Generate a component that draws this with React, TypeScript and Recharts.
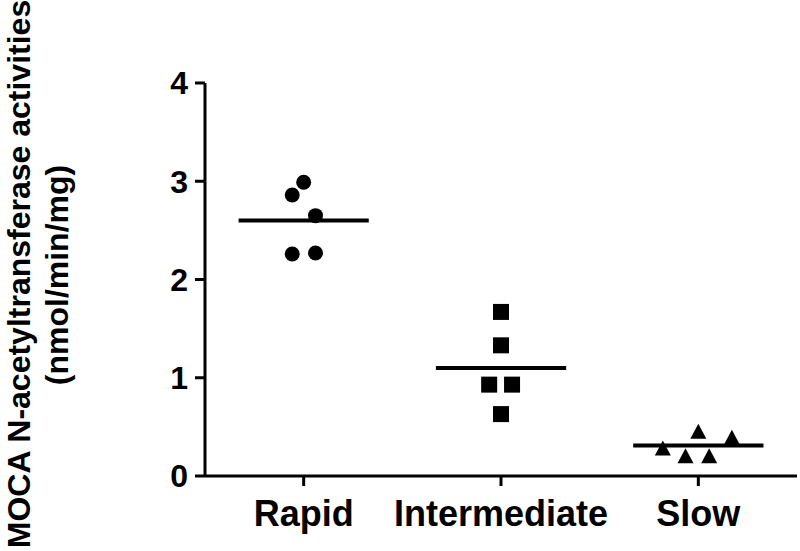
import React from 'react';
import { ScatterChart, Scatter, XAxis, YAxis, ReferenceLine, Label } from 'recharts';

const categories = ['Rapid', 'Intermediate', 'Slow'];
const rapidValues = [2.99, 2.86, 2.65, 2.26, 2.27];
const rapidJitter = [0, -0.058, 0.06, -0.058, 0.06];
const intermediateValues = [1.67, 1.33, 0.93, 0.93, 0.63];
const intermediateJitter = [0, 0, -0.06, 0.056, 0];
const slowValues = [0.28, 0.45, 0.39, 0.2, 0.2];
const slowJitter = [-0.18, 0, 0.17, -0.065, 0.055];
const groupMeans = [2.6, 1.1, 0.31];
const yTicks = [0, 1, 2, 3, 4];

const font = '"Liberation Sans", Arial, sans-serif';

const toPoints = (values: number[], jitter: number[], idx: number) =>
  values.map((v, i) => ({ x: idx + 0.5 + jitter[i], y: v }));

const rapidData = toPoints(rapidValues, rapidJitter, 0);
const intermediateData = toPoints(intermediateValues, intermediateJitter, 1);
const slowData = toPoints(slowValues, slowJitter, 2);

const Dot = (p: any) => <circle cx={p.cx} cy={p.cy} r={7.5} fill="#000" />;
const Box = (p: any) => <rect x={p.cx - 8} y={p.cy - 8} width={16} height={16} fill="#000" />;
const Tri = (p: any) => (
  <polygon points={`${p.cx},${p.cy - 8} ${p.cx - 8},${p.cy + 7} ${p.cx + 8},${p.cy + 7}`} fill="#000" />
);

const yLabel = () => (
  <g fontFamily={font} fontWeight="bold" fontSize={32} fill="#000">
    <text x={30} y={274} transform="rotate(-90 30 274)" textAnchor="middle">
      MOCA N-acetyltransferase activities
    </text>
    <text x={68} y={275} transform="rotate(-90 68 275)" textAnchor="middle">
      (nmol/min/mg)
    </text>
  </g>
);

const axisStroke = { stroke: '#000', strokeWidth: 3 };

const App: React.FC = () => {
  return (
    <div style={{ position: 'absolute', left: 0, top: 0, background: '#fff' }}>
      <ScatterChart width={800} height={551} margin={{ top: 83, right: 3, bottom: 0, left: 0 }}>
        <XAxis
          type="number"
          dataKey="x"
          domain={[0, 3]}
          ticks={[0.5, 1.5, 2.5]}
          interval={0}
          tickFormatter={(v: number) => categories[Math.floor(v)]}
          height={75}
          tickSize={10}
          tickMargin={14}
          axisLine={axisStroke}
          tickLine={axisStroke}
          tick={{ fill: '#000', fontSize: 36, fontWeight: 'bold', fontFamily: font }}
        />
        <YAxis
          type="number"
          dataKey="y"
          domain={[0, 4]}
          ticks={yTicks}
          interval={0}
          width={205}
          tickSize={10}
          tickMargin={7}
          axisLine={axisStroke}
          tickLine={axisStroke}
          tick={{ fill: '#000', fontSize: 32, fontWeight: 'bold', fontFamily: font }}
        >
          <Label content={yLabel} />
        </YAxis>
        {groupMeans.map((m, i) => (
          <ReferenceLine
            key={categories[i]}
            segment={[{ x: i + 0.17, y: m }, { x: i + 0.83, y: m }]}
            stroke="#000"
            strokeWidth={4}
          />
        ))}
        <Scatter data={rapidData} shape={Dot} isAnimationActive={false} />
        <Scatter data={intermediateData} shape={Box} isAnimationActive={false} />
        <Scatter data={slowData} shape={Tri} isAnimationActive={false} />
      </ScatterChart>
    </div>
  );
};

export default App;
